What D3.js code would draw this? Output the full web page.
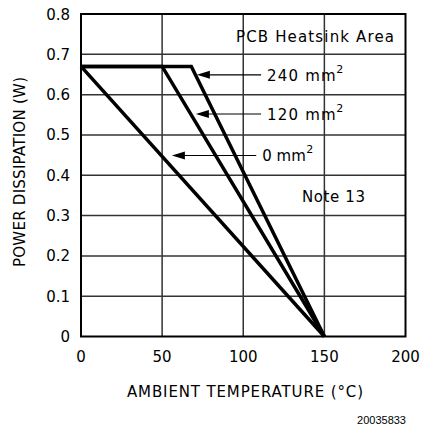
<!DOCTYPE html>
<html><head><meta charset="utf-8">
<script src="https://cdn.jsdelivr.net/npm/d3@7"></script>
<style>
body{margin:0;background:#fff;}
svg{display:block;font-family:"DejaVu Sans",sans-serif;}
</style></head>
<body><svg id="c" width="422" height="429"></svg>
<script>
// Data
const xTicks = [0, 50, 100, 150, 200];
const yTicks = [0, 0.1, 0.2, 0.3, 0.4, 0.5, 0.6, 0.7, 0.8];
const yTickLabels = ["0", "0.1", "0.2", "0.3", "0.4", "0.5", "0.6", "0.7", "0.8"];
const curve0 = [[0, 0.67], [150, 0]];
const curve120 = [[0, 0.67], [50, 0.67], [150, 0]];
const curve240 = [[0, 0.67], [68, 0.67], [150, 0]];
const arrowLabels = ["240 mm", "120 mm", "0 mm"];
const arrowTipX = [71.4, 70.8, 56];
const arrowY = [0.649, 0.552, 0.449];
const arrowTailX = [111, 111, 108];

const svg = d3.select("#c");
const L = 81, R = 405.5, T = 14, B = 336.5;
const x = d3.scaleLinear().domain([0, 200]).range([L, R]);
const y = d3.scaleLinear().domain([0, 0.8]).range([B, T]);

// grid
svg.append("g").selectAll("line.v").data(xTicks.slice(1, -1)).join("line")
  .attr("x1", d => x(d)).attr("x2", d => x(d)).attr("y1", T).attr("y2", B)
  .attr("stroke", "#333").attr("stroke-width", 1.5);
svg.append("g").selectAll("line.h").data(yTicks.slice(1, -1)).join("line")
  .attr("y1", d => y(d)).attr("y2", d => y(d)).attr("x1", L).attr("x2", R)
  .attr("stroke", "#333").attr("stroke-width", 1.5);
svg.append("rect").attr("x", L).attr("y", T).attr("width", R - L).attr("height", B - T)
  .attr("fill", "none").attr("stroke", "#000").attr("stroke-width", 2);

// tick labels
svg.append("g").selectAll("text").data(yTicks).join("text")
  .attr("x", 70).attr("y", d => y(d) + 5.5).attr("text-anchor", "end")
  .attr("font-size", 15).text((d, i) => yTickLabels[i]);
svg.append("g").selectAll("text").data(xTicks).join("text")
  .attr("x", d => x(d)).attr("y", 362).attr("text-anchor", "middle")
  .attr("font-size", 15).text(d => d);

// curves
const line = d3.line().x(d => x(d[0])).y(d => y(d[1]));
[curve0, curve120, curve240].forEach(c => {
  svg.append("path").attr("d", line(c)).attr("fill", "none")
    .attr("stroke", "#000").attr("stroke-width", 3.5).attr("stroke-linejoin", "miter");
});

// arrows
const labSpacing = [1.2, 1.2, 0];
arrowLabels.forEach((lab, i) => {
  const ty = y(arrowY[i]), tx = x(arrowTipX[i]), ex = x(arrowTailX[i]);
  svg.append("line").attr("x1", tx + 10).attr("x2", ex).attr("y1", ty).attr("y2", ty)
    .attr("stroke", "#000").attr("stroke-width", 1.2);
  svg.append("path").attr("d", `M${tx},${ty} L${tx + 13},${ty - 4} L${tx + 13},${ty + 4} Z`).attr("fill", "#000");
  const t = svg.append("text").attr("x", ex + 6).attr("y", ty + 6).attr("font-size", 15).attr("fill", "#000");
  t.append("tspan").attr("letter-spacing", labSpacing[i]).text(lab);
  t.append("tspan").attr("font-size", 11).attr("dy", -8).attr("dx", 0.5 - labSpacing[i]).text("2");
});

svg.append("text").attr("x", 236).attr("y", 42)
  .attr("font-size", 15).attr("textLength", 158).attr("lengthAdjust", "spacing").text("PCB Heatsink Area");
svg.append("text").attr("x", 302).attr("y", 202)
  .attr("font-size", 15).attr("textLength", 63).attr("lengthAdjust", "spacing").text("Note 13");

svg.append("text").attr("x", 127).attr("y", 397)
  .attr("font-size", 15).attr("textLength", 236).attr("lengthAdjust", "spacing").text("AMBIENT TEMPERATURE (°C)");
svg.append("text").attr("transform", "translate(25,267) rotate(-90)")
  .attr("font-size", 15).attr("textLength", 190).attr("lengthAdjust", "spacing").text("POWER DISSIPATION (W)");
svg.append("text").attr("x", 406).attr("y", 424).attr("text-anchor", "end")
  .attr("font-family", "Liberation Sans, Arial, sans-serif").attr("font-size", 11).text("20035833");
</script></body></html>
